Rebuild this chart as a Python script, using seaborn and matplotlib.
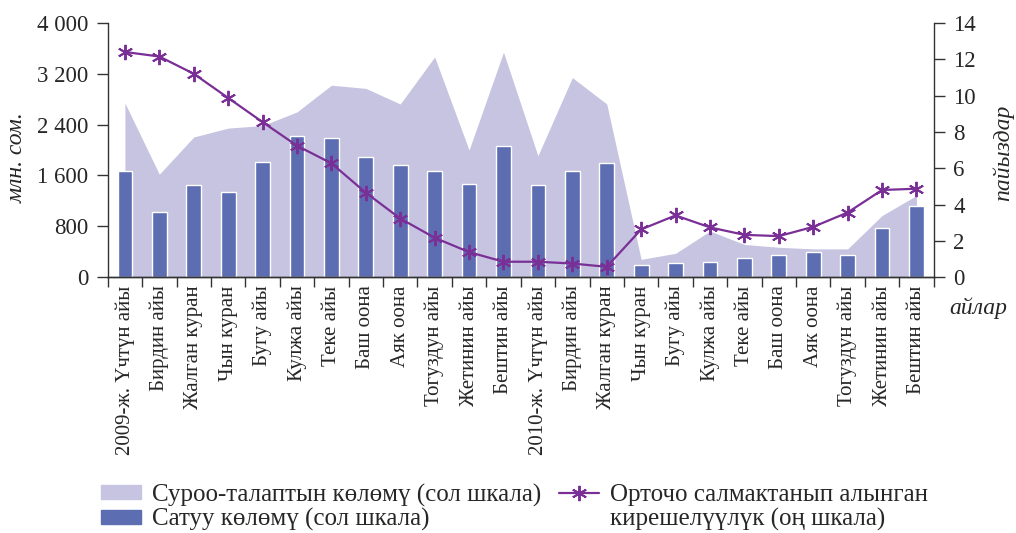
import numpy as np
import pandas as pd
import matplotlib
matplotlib.use("Agg")
import matplotlib.pyplot as plt
import seaborn as sns
from matplotlib.patches import Patch
from matplotlib.lines import Line2D
from matplotlib.ticker import FuncFormatter

months = ["2009-ж. Үчтүн айы", "Бирдин айы", "Жалган куран", "Чын куран", "Бугу айы",
          "Кулжа айы", "Теке айы", "Баш оона", "Аяк оона", "Тогуздун айы", "Жетинин айы",
          "Бештин айы", "2010-ж. Үчтүн айы", "Бирдин айы", "Жалган куран", "Чын куран",
          "Бугу айы", "Кулжа айы", "Теке айы", "Баш оона", "Аяк оона", "Тогуздун айы",
          "Жетинин айы", "Бештин айы"]

demand = [2740, 1620, 2205, 2345, 2385, 2600, 3020, 2970, 2725, 3465, 2000, 3540,
          1910, 3140, 2725, 280, 375, 725, 515, 470, 445, 445, 970, 1285]

sales = [1670, 1025, 1450, 1340, 1810, 2220, 2190, 1890, 1765, 1670, 1465, 2065,
         1450, 1670, 1795, 190, 220, 235, 300, 345, 395, 345, 770, 1120]

yield_pct = [12.4, 12.15, 11.2, 9.87, 8.54, 7.24, 6.27, 4.65, 3.23, 2.17, 1.38, 0.85,
             0.85, 0.75, 0.57, 2.63, 3.40, 2.74, 2.33, 2.26, 2.77, 3.56, 4.80, 4.87]

area_color = "#c6c4e1"
bar_color = "#5d6db1"
line_color = "#7a2f96"

sns.set_style("ticks")
plt.rcParams["font.family"] = ["Liberation Serif", "DejaVu Serif"]

df = pd.DataFrame({"i": np.arange(len(months)), "sales": sales,
                   "demand": demand, "yield": yield_pct})

fig = plt.figure(figsize=(10.16, 5.33), dpi=100)
ax = fig.add_axes([0.106, 0.48, 0.813, 0.477])

ax.fill_between(df["i"], 0, df["demand"], color=area_color, linewidth=0, zorder=1)
sns.barplot(data=df, x="i", y="sales", color=bar_color, width=0.43,
            saturation=1, ax=ax, zorder=2)

ax2 = ax.twinx()
sns.lineplot(data=df, x="i", y="yield", color=line_color, linewidth=1.6,
             marker=(6, 2, 0), markersize=11, markeredgewidth=1.4,
             markeredgecolor=line_color, ax=ax2)

ax.set_xlim(-0.5, len(months) - 0.5)
ax.set_ylim(0, 4000)
ax.set_yticks([0, 800, 1600, 2400, 3200, 4000])
ax.yaxis.set_major_formatter(FuncFormatter(lambda v, p: f"{int(v):,}".replace(",", " ")))
ax2.set_ylim(0, 14)
ax2.set_yticks(range(0, 15, 2))

ax.set_xticks(np.arange(len(months)))
ax.set_xticklabels(months, rotation=90, fontsize=15)
ax.set_xticks(np.arange(len(months) + 1) - 0.5, minor=True)
ax.tick_params(axis="x", which="major", length=0, pad=6)
ax.tick_params(axis="x", which="minor", length=7, width=1, color="#333333")
ax.tick_params(axis="y", labelsize=16.5, length=8, width=1, color="#333333", pad=6)
ax2.tick_params(axis="y", labelsize=16.5, length=8, width=1, color="#333333", pad=6)

ax.set_xlabel("")
ax.set_ylabel("млн. сом.", fontsize=17, style="italic")
ax.yaxis.set_label_coords(-0.097, 0.47)
ax2.set_ylabel("пайыздар", fontsize=17, style="italic")
ax2.yaxis.set_label_coords(1.071, 0.49)
ax2.set_xlabel("")

for a in (ax, ax2):
    a.spines["top"].set_visible(False)
    for s in ("left", "right", "bottom"):
        a.spines[s].set_color("#333333")
        a.spines[s].set_linewidth(1)
ax.spines["right"].set_visible(False)
ax2.spines["left"].set_visible(False)

fig.text(0.963, 0.422, "айлар", fontsize=17, style="italic", ha="center", va="center")

handles = [Patch(color=area_color), Patch(color=bar_color),
           Line2D([0], [0], color=line_color, linewidth=1.6, marker=(6, 2, 0),
                  markersize=11, markeredgewidth=1.4),
           Line2D([], [], linestyle="none")]
labels = ["Суроо-талаптын көлөмү (сол шкала)", "Сатуу көлөмү (сол шкала)",
          "Орточо салмактанып алынган", "кирешелүүлүк (оң шкала)"]
fig.legend(handles, labels, ncol=2, loc="lower left", bbox_to_anchor=(0.082, -0.029),
           frameon=False, fontsize=18, handlelength=1.6, handleheight=0.5,
           handletextpad=0.45, columnspacing=0.7, labelspacing=0.05, borderpad=0.2)

fig.savefig("out.png", dpi=100)
